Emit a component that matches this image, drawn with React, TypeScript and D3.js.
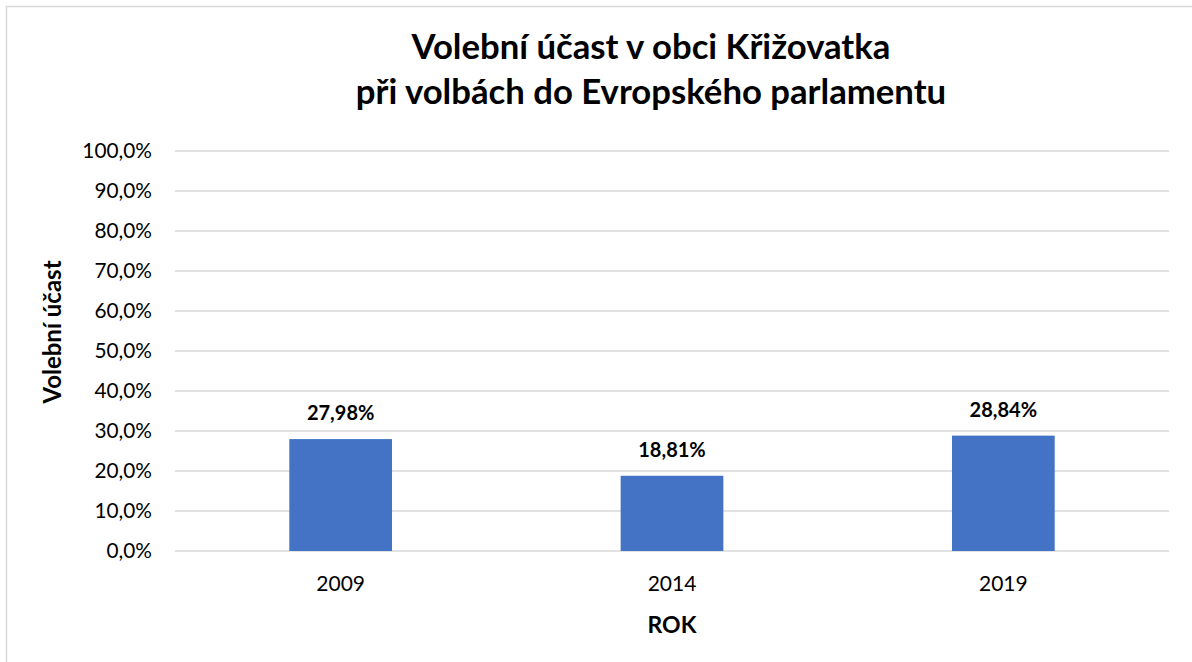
import React from "react";
import * as d3 from "d3";

const years = ["2009", "2014", "2019"];
const turnout = [27.98, 18.81, 28.84];
const yTicks = [0, 10, 20, 30, 40, 50, 60, 70, 80, 90, 100];
const titleLines = ["Volební účast v obci Křižovatka", "při volbách do Evropského parlamentu"];
const yTitle = "Volební účast";
const xTitle = "ROK";

const W = 1192, H = 662;
const FONT = "Lato, 'Open Sans', sans-serif";

export default function App() {
  const x = d3.scaleBand<string>().domain(years).range([175, 1169]).paddingInner(0.69).paddingOuter(0.345);
  const y = d3.scaleLinear().domain([0, 100]).range([551, 151]);
  const fmtTick = (v: number) => v.toFixed(1).replace(".", ",") + "%";
  const fmtLab = (v: number) => v.toFixed(2).replace(".", ",") + "%";
  return (
    <svg width={W} height={H} style={{ position: "absolute", left: 0, top: 0 }} fontFamily={FONT}>
      <rect x={0} y={0} width={W} height={H} fill="#fff" />
      <rect x={6.5} y={6.5} width={W + 20} height={H + 20} fill="#fff" stroke="#d9d9d9" strokeWidth={1.5} />
      {titleLines.map((t, i) => (
        <text key={i} x={651} y={59 + i * 45} textAnchor="middle" fontSize={34.7} fontWeight="bold" fill="#000">{t}</text>
      ))}
      {yTicks.map((t) => (
        <g key={t}>
          <line x1={175} x2={1169} y1={y(t)} y2={y(t)} stroke="#d9d9d9" strokeWidth={1.5} />
          <text x={152} y={y(t)} dy="0.35em" textAnchor="end" fontSize={20.8} fill="#000">{fmtTick(t)}</text>
        </g>
      ))}
      {years.map((yr, i) => (
        <g key={yr}>
          <rect x={x(yr)} y={y(turnout[i])} width={x.bandwidth()} height={y(0) - y(turnout[i])} fill="#4472C4" />
          <text x={x(yr)! + x.bandwidth() / 2} y={y(turnout[i]) - 19} textAnchor="middle" fontSize={20} fontWeight="bold" fill="#000">{fmtLab(turnout[i])}</text>
          <text x={x(yr)! + x.bandwidth() / 2} y={584} dy="0.35em" textAnchor="middle" fontSize={21} fill="#000">{yr}</text>
        </g>
      ))}
      <text x={672} y={625} dy="0.35em" textAnchor="middle" fontSize={23} fontWeight="bold" fill="#000">{xTitle}</text>
      <text transform={`translate(53,332) rotate(-90)`} dy="0.35em" textAnchor="middle" fontSize={24} fontWeight="bold" fill="#000">{yTitle}</text>
    </svg>
  );
}
